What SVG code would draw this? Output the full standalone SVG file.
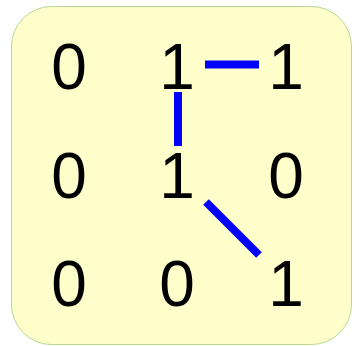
<svg xmlns="http://www.w3.org/2000/svg" width="359" height="346" viewBox="0 0 359 346">
<style>
.d{font-family:"Liberation Sans",Arial,sans-serif;font-size:64px;fill:#000;text-anchor:middle}
.c{stroke:#0000ff;stroke-width:8;fill:none}
</style>
<rect x="11.5" y="6.5" width="340" height="338" rx="40" ry="40" fill="#ffffcc" stroke="#b5d98f" stroke-width="1"/>
<g id="n00"><text class="d" x="69" y="89">0</text></g>
<g id="n01"><text class="d" x="177" y="89">1</text></g>
<g id="n02"><text class="d" x="286" y="89">1</text></g>
<g id="n10"><text class="d" x="69" y="198">0</text></g>
<g id="n11"><text class="d" x="177" y="198">1</text></g>
<g id="n12"><text class="d" x="286" y="198">0</text></g>
<g id="n20"><text class="d" x="69" y="306">0</text></g>
<g id="n21"><text class="d" x="177" y="306">0</text></g>
<g id="n22"><text class="d" x="286" y="306">1</text></g>
<g id="connectors">
<line class="c" x1="205" y1="64.5" x2="259" y2="64.5"/>
<line class="c" x1="178" y1="92" x2="178" y2="146"/>
<line class="c" x1="206" y1="202" x2="259" y2="255"/>
</g>
</svg>
